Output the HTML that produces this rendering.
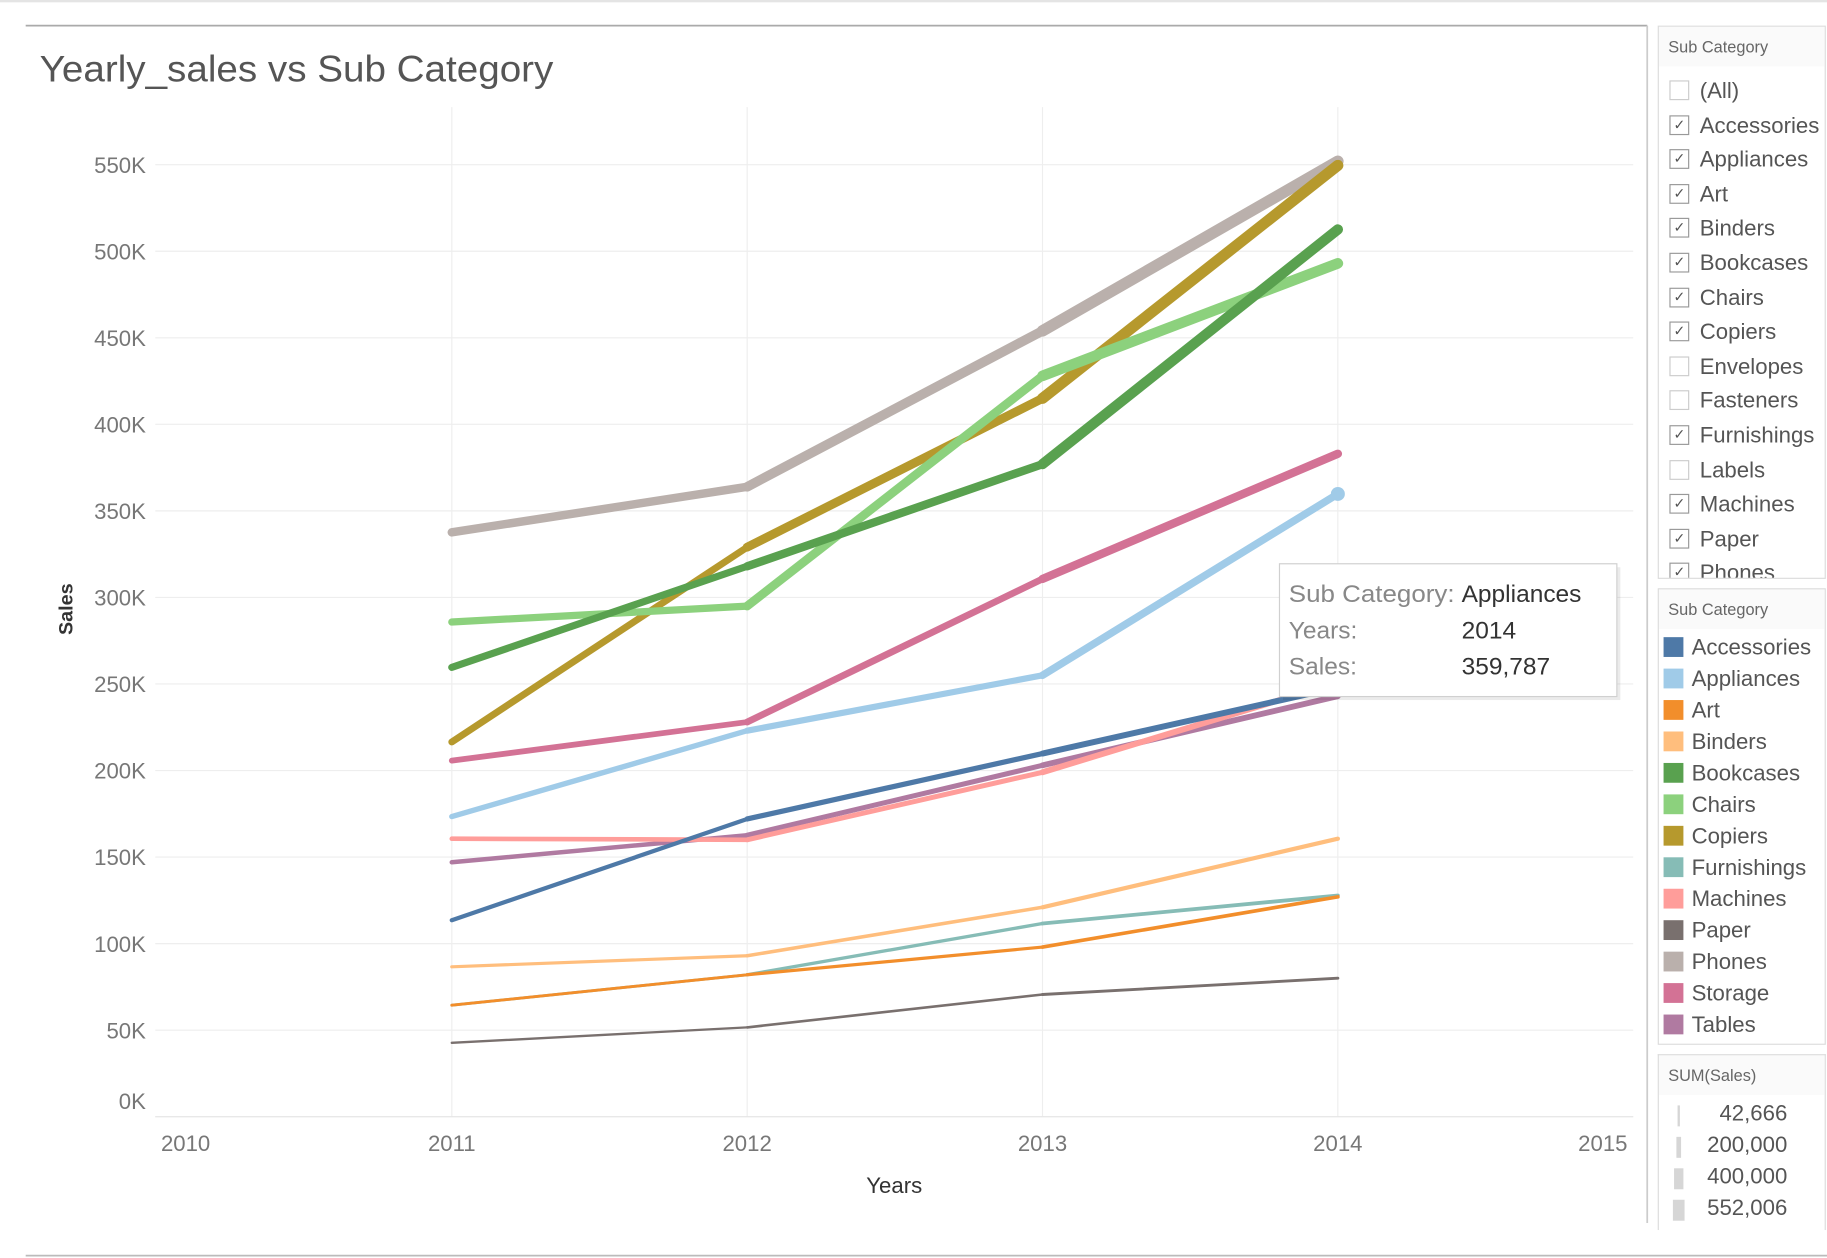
<!DOCTYPE html>
<html><head><meta charset="utf-8"><style>
html,body{margin:0;padding:0;background:#fff;overflow:hidden}
#root{position:absolute;left:0;top:0;width:1565px;height:1080px;transform-origin:0 0;transform:scale(1.16741,1.16481);font-family:"Liberation Sans",sans-serif}
.panel{position:absolute;left:1420px;width:142px;border:1px solid #dcdcdc;background:#fff;overflow:hidden}
.ph{height:34px;line-height:34px;padding-left:8px;font-size:14px;color:#666;background:#fafafa}
.fi{position:absolute;left:9px;font-size:19px;line-height:22px;color:#555;white-space:nowrap}
.cb{display:inline-block;box-sizing:border-box;width:17px;height:17px;border:1px solid #999;vertical-align:middle;margin-top:-3px;margin-right:9px;font-size:12px;line-height:15px;text-align:center;color:#555}
.cb.off{border-color:#ccc}
.li{position:absolute;left:4px;font-size:19px;line-height:22px;color:#555;white-space:nowrap}
.sw{display:inline-block;width:17px;height:17px;vertical-align:middle;margin-top:-3px;margin-right:7px}
</style></head><body>
<div id="root">
<svg id="chart" width="1565" height="1080" style="position:absolute;left:0;top:0">
 <rect x="0" y="0" width="1565" height="2" fill="#e4e4e4"/>
 <line x1="22" y1="22" x2="1411" y2="22" stroke="#aaa" stroke-width="1.5"/>
 <line x1="1411" y1="22" x2="1411" y2="1050" stroke="#ccc" stroke-width="1.5"/>
 <line x1="22" y1="1078" x2="1565" y2="1078" stroke="#bbb" stroke-width="1.5"/>
 <text x="34" y="70" font-size="32" fill="#555" textLength="440" lengthAdjust="spacingAndGlyphs">Yearly_sales vs Sub Category</text>
 <g id="grid"></g><g id="axes"></g><g id="lines"></g>
 <text x="62" y="523" font-size="17" fill="#333" font-weight="bold" text-anchor="middle" transform="rotate(-90 62 523)">Sales</text>
 <text x="766" y="1024" font-size="19" fill="#333" text-anchor="middle">Years</text>
 <g>
  <rect x="1099" y="487" width="289" height="114" fill="#000" opacity="0.08"/>
  <rect x="1096" y="484" width="289" height="114" fill="#fff" stroke="#d0d0d0"/>
  <text x="1104" y="517" font-size="21" fill="#888" textLength="142" lengthAdjust="spacingAndGlyphs">Sub Category:</text>
  <text x="1252" y="517" font-size="21" fill="#333">Appliances</text>
  <text x="1104" y="548" font-size="21" fill="#888">Years:</text>
  <text x="1252" y="548" font-size="21" fill="#333">2014</text>
  <text x="1104" y="579" font-size="21" fill="#888">Sales:</text>
  <text x="1252" y="579" font-size="21" fill="#333">359,787</text>
 </g>
</svg>

<div class="panel" style="top:22px;height:473px">
 <div class="ph">Sub Category</div>
 <div id="filters"></div>
</div>
<div class="panel" style="top:505px;height:390px">
 <div class="ph">Sub Category</div>
 <div id="legend"></div>
</div>
<div class="panel" style="top:905px;height:150px;border-bottom:none">
 <div class="ph">SUM(Sales)</div>
 <div id="sizeleg"></div>
</div>
</div>
<script>
const years=[2011,2012,2013,2014];
const categories=["Accessories","Appliances","Art","Binders","Bookcases","Chairs","Copiers","Furnishings","Machines","Paper","Phones","Storage","Tables"];
const colors=["#4e79a7","#a0cbe8","#f28e2b","#ffbe7d","#59a14f","#8cd17d","#b6992d","#86bcb6","#ff9d9a","#79706e","#bab0ac","#d37295","#b07aa1"];
const accessories=[113500,172000,209800,248000];
const appliances=[173400,223000,255000,359787];
const art=[64400,82000,98000,127000];
const binders=[86600,93000,121000,160600];
const bookcases=[259600,318000,377000,512600];
const chairs=[285800,295000,428000,493000];
const copiers=[216500,329000,415000,549600];
const furnishings=[64400,82000,111600,127800];
const machines=[160600,160000,199000,251000];
const paper=[42666,51600,70600,80000];
const phones=[337600,363900,454000,552006];
const storage=[205700,228000,310700,383000];
const tables=[147000,162600,203000,243000];
const series=[accessories,appliances,art,binders,bookcases,chairs,copiers,furnishings,machines,paper,phones,storage,tables];
const yTicks=[0,50000,100000,150000,200000,250000,300000,350000,400000,450000,500000,550000];
const yTickLabels=["0K","50K","100K","150K","200K","250K","300K","350K","400K","450K","500K","550K"];
const xTicks=[2010,2011,2012,2013,2014,2015];
const filterItems=["(All)","Accessories","Appliances","Art","Binders","Bookcases","Chairs","Copiers","Envelopes","Fasteners","Furnishings","Labels","Machines","Paper","Phones"];
const filterChecked=[0,1,1,1,1,1,1,1,0,0,1,0,1,1,1];
const sizeLabels=["42,666","200,000","400,000","552,006"];
const sizeValues=[42666,200000,400000,552006];

const NS="http://www.w3.org/2000/svg";
const X0=133,X1=1399,Y0=958.7,PER=74.3/50000;
function xs(yr){return 387+(yr-2011)*253;}
function ys(v){return Y0-v*PER;}
function mk(tag,attrs,parent){const e=document.createElementNS(NS,tag);for(const k in attrs)e.setAttribute(k,attrs[k]);parent.appendChild(e);return e;}
const grid=document.getElementById('grid'),axes=document.getElementById('axes'),lines=document.getElementById('lines');
yTicks.forEach((t,i)=>{
 const l=mk('line',{x1:X0,x2:X1,y1:ys(t),y2:ys(t),stroke:'#eeeeee','stroke-width':1},grid);
 
 
 const tx=mk('text',{x:125,y:(t===0?952:ys(t)+7),'font-size':19,fill:'#777','text-anchor':'end'},axes);
 tx.textContent=yTickLabels[i];
 
 
});
xTicks.forEach(t=>{
 if(t>2010&&t<2015){const l=mk('line',{x1:xs(t),x2:xs(t),y1:92,y2:Y0,stroke:'#eeeeee','stroke-width':1},grid);
 
 }
 let px=xs(t); if(t===2010)px=159; if(t===2015)px=1373;
 const tx=mk('text',{x:px,y:988,'font-size':19,fill:'#777','text-anchor':'middle'},axes);
 tx.textContent=t;
 
 
});
mk('line',{x1:X0,x2:X1,y1:Y0,y2:Y0,stroke:'#e6e6e6'},grid);
const maxV=552006;
function wid(v){return 1.2+v/maxV*9.5;}
for(let s=series.length-1;s>=0;s--){
 const g=mk('g',{},lines);
 
 
 const d=series[s];
 for(let i=0;i<d.length-1;i++){
  const seg=mk('line',{x1:xs(years[i]),y1:ys(d[i]),x2:xs(years[i+1]),y2:ys(d[i+1]),stroke:colors[s],'stroke-width':wid((d[i]+d[i+1])/2),'stroke-linecap':'round'},g);
  
  
 }
}
const hi=mk('circle',{cx:xs(years[3]),cy:ys(appliances[3]),r:6,fill:colors[1]},lines);



const fEl=document.getElementById('filters');
filterItems.forEach((n,i)=>{
 const d=document.createElement('div');d.className='fi';d.style.top=(45+i*29.6)+'px';
 d.innerHTML='<span class="cb'+(filterChecked[i]?'':' off')+'">'+(filterChecked[i]?'✓':'')+'</span>'+n;
 
 
 fEl.appendChild(d);
});
const lEl=document.getElementById('legend');
categories.forEach((n,i)=>{
 const d=document.createElement('div');d.className='li';d.style.top=(40+i*27)+'px';
 d.innerHTML='<span class="sw" style="background:'+colors[i]+'"></span>'+n;
 
 
 lEl.appendChild(d);
});
const sEl=document.getElementById('sizeleg');
sizeLabels.forEach((n,i)=>{
 const d=document.createElement('div');d.style.cssText='position:absolute;top:'+(40+i*27)+'px;left:0;width:110px;height:24px;font-size:19px;color:#555;text-align:right';
 const w=Math.max(1.5,sizeValues[i]/maxV*10);
 d.innerHTML='<span style="position:absolute;left:'+(17-w/2)+'px;top:3px;width:'+w+'px;height:18px;background:#d6d6d6"></span>'+n;
 
 
 sEl.appendChild(d);
});
</script>
</body></html>
